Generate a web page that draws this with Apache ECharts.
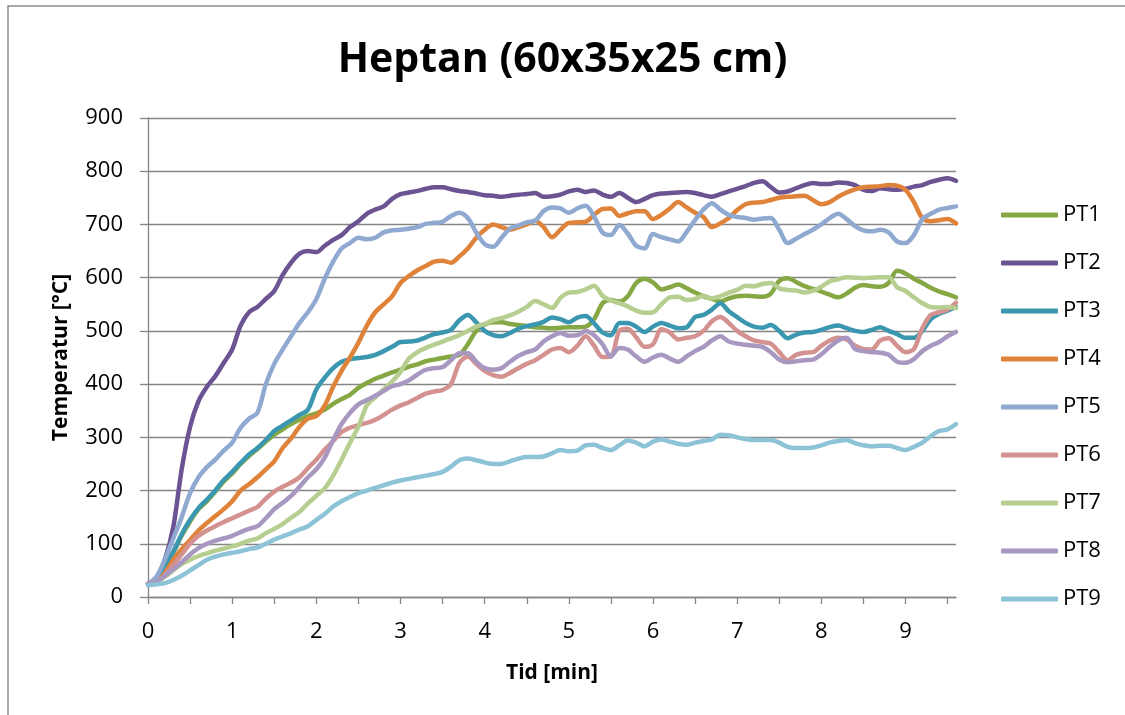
<!DOCTYPE html>
<html>
<head>
<meta charset="utf-8">
<script src="https://cdn.jsdelivr.net/npm/echarts@6/dist/echarts.min.js"></script>
<style>html,body{margin:0;padding:0;background:#fff;}#c{width:1125px;height:715px;}</style>
</head>
<body>
<div id="c"></div>
<script>
const title = "Heptan (60x35x25 cm)";
const xName = "Tid [min]";
const yName = "Temperatur [°C]";
const seriesNames = ["PT1","PT2","PT3","PT4","PT5","PT6","PT7","PT8","PT9"];
const xTickValues = [0,0.5,1,1.5,2,2.5,3,3.5,4,4.5,5,5.5,6,6.5,7,7.5,8,8.5,9,9.5];
const xLabelValues = [0,1,2,3,4,5,6,7,8,9];

const tid = [0,0.1,0.2,0.3,0.4,0.5,0.6,0.7,0.8,0.9,1,1.1,1.2,1.3,1.4,1.5,1.6,1.7,1.8,1.9,2,2.1,2.2,2.3,2.4,2.5,2.6,2.7,2.8,2.9,3,3.1,3.2,3.3,3.4,3.5,3.6,3.7,3.8,3.9,4,4.1,4.2,4.3,4.4,4.5,4.6,4.7,4.8,4.9,5,5.1,5.2,5.3,5.4,5.5,5.6,5.7,5.8,5.9,6,6.1,6.2,6.3,6.4,6.5,6.6,6.7,6.8,6.9,7,7.1,7.2,7.3,7.4,7.5,7.6,7.7,7.8,7.9,8,8.1,8.2,8.3,8.4,8.5,8.6,8.7,8.8,8.9,9,9.1,9.2,9.3,9.4,9.5,9.6];

const PT1 = [25,30,58,83,115,142,165,180,198,217,232,250,265,278,292,305,315,325,333,340,345,352,363,372,380,393,402,410,416,422,427,433,437,443,446,449,452,455,475,500,512,516,516,513,511,509,507,506,505,506,507,507,508,522,552,558,555,565,590,598,591,578,582,587,580,572,565,560,555,561,565,566,565,564,570,594,599,592,584,579,574,568,563,570,581,586,584,583,590,613,608,598,590,581,574,569,563];
const PT2 = [25,35,70,131,240,320,368,395,415,440,465,510,535,545,560,575,605,628,645,650,648,660,671,680,695,706,720,728,734,748,757,760,763,767,770,770,766,763,761,758,755,754,752,754,756,757,759,752,753,756,762,765,761,764,756,752,759,750,742,748,755,758,759,760,761,759,755,752,757,762,767,772,778,781,770,760,762,768,774,778,776,776,779,778,774,765,763,768,766,765,767,771,774,780,784,787,782];
const PT3 = [25,30,60,85,118,145,167,183,200,220,235,252,268,280,295,312,322,332,342,352,390,412,430,442,447,449,451,455,462,470,479,480,482,488,494,497,502,520,530,516,500,492,490,496,504,509,512,517,525,522,516,525,528,514,497,492,515,515,508,498,508,515,510,505,507,526,530,540,552,537,526,515,508,506,511,500,486,493,497,498,502,507,510,505,500,498,502,507,500,494,487,487,500,522,532,538,545];
const PT4 = [25,28,45,70,90,107,125,139,152,165,180,200,212,225,240,255,280,298,320,335,340,360,395,425,450,478,510,535,550,565,590,603,614,622,630,632,628,640,655,675,690,700,695,690,695,700,707,695,676,690,703,704,705,718,729,730,716,721,725,725,710,718,730,742,732,722,714,695,702,712,727,738,741,742,746,750,752,753,754,746,738,742,752,760,766,770,771,772,774,773,765,742,712,706,708,710,702];
const PT5 = [25,38,70,110,150,195,225,244,258,275,290,318,335,346,400,438,465,490,515,535,560,598,630,655,665,675,672,675,685,689,690,692,695,701,703,705,716,722,712,685,663,658,675,692,698,704,707,725,732,730,722,730,735,715,685,680,699,683,660,655,682,676,672,668,686,708,728,740,728,718,714,712,709,711,712,690,665,673,682,690,700,712,720,710,697,689,687,690,685,668,665,680,710,720,728,731,734];
const PT6 = [25,28,42,60,80,100,115,125,133,141,148,155,162,169,185,198,207,215,225,242,258,277,293,310,318,323,327,333,342,352,360,366,374,382,386,389,400,440,452,438,425,417,414,421,430,438,445,455,465,468,460,472,490,472,451,452,500,504,488,470,475,503,497,484,487,490,500,518,526,515,500,490,482,479,476,460,445,455,459,460,472,482,487,484,472,466,465,482,486,472,460,466,505,530,535,540,553];
const PT7 = [25,28,38,50,62,70,77,82,87,91,95,100,106,110,120,128,137,149,160,176,190,204,228,258,290,320,360,375,390,405,423,448,460,468,474,480,486,492,500,508,513,520,524,529,536,545,556,550,543,562,572,573,578,585,566,557,552,546,538,534,535,550,563,564,558,560,566,561,565,572,577,585,584,588,590,580,577,576,572,575,583,593,597,601,600,599,600,601,601,582,575,563,552,545,544,545,543];
const PT8 = [25,28,40,52,65,80,92,100,106,110,115,122,128,133,148,165,177,190,207,225,240,262,295,325,346,362,370,378,387,396,400,407,418,427,430,432,445,458,458,442,430,427,430,442,453,460,465,480,490,496,491,492,500,492,475,452,468,465,452,442,450,455,448,442,452,462,470,482,490,480,476,474,472,470,460,446,441,443,445,446,456,470,482,487,466,462,460,459,455,442,440,447,462,472,479,490,498];
const PT9 = [22,24,26,32,40,50,60,70,76,80,83,86,90,93,100,108,114,120,127,133,145,156,170,180,188,195,200,205,210,215,219,222,225,228,231,235,245,257,260,257,253,250,250,255,260,263,263,264,270,276,274,275,285,286,280,276,285,294,290,283,292,296,292,288,286,290,293,296,305,304,300,297,295,295,295,290,282,280,280,281,285,290,293,295,289,285,283,284,284,280,276,282,290,302,312,315,325];

const values = [PT1,PT2,PT3,PT4,PT5,PT6,PT7,PT8,PT9];
const colors = ["#86A844","#6C5493","#3B97B0","#E0833A","#8FA9D0","#D39290","#B6CE90","#A897C0","#8CC3D6"];

const FONT = "'Open Sans', 'Liberation Sans', sans-serif";
const chart = echarts.init(document.getElementById('c'), null, {renderer:'canvas'});
const axisGray = '#868686';

chart.setOption({
  backgroundColor: '#fff',
  animation: false,
  title: {
    text: title, left: 'center', top: 35,
    textStyle: {fontFamily: FONT, fontWeight: 'bold', fontSize: 41, color: '#000'}
  },
  graphic: [{
    type: 'rect', shape: {x: 8, y: 6, width: 1200, height: 800},
    style: {fill: 'none', stroke: '#8c8c8c', lineWidth: 1.5}, silent: true
  }],
  grid: {left: 148, top: 118, width: 808, height: 479},
  legend: {
    orient: 'vertical', left: 996, top: 199, itemWidth: 57, itemHeight: 5, itemGap: 26,
    icon: 'roundRect',
    textStyle: {fontFamily: FONT, fontSize: 22, lineHeight: 22, color: '#000'},
    data: seriesNames
  },
  xAxis: {
    type: 'value', min: 0, max: 9.6,
    name: xName, nameLocation: 'middle', nameGap: 66,
    nameTextStyle: {fontFamily: FONT, fontWeight: 'bold', fontSize: 21, color: '#000'},
    axisLine: {show: true, lineStyle: {color: axisGray, width: 1.3}},
    axisTick: {show: true, length: 7, lineStyle: {color: axisGray, width: 1.3}, customValues: xTickValues},
    axisLabel: {fontFamily: FONT, fontSize: 22, color: '#000', margin: 24, customValues: xLabelValues},
    splitLine: {show: false}
  },
  yAxis: {
    type: 'value', min: 0, max: 900, interval: 100,
    name: yName, nameLocation: 'middle', nameGap: 76, nameRotate: 90,
    nameTextStyle: {fontFamily: FONT, fontWeight: 'bold', fontSize: 21, color: '#000'},
    axisLine: {show: true, lineStyle: {color: axisGray, width: 1.3}},
    axisTick: {show: true, length: 8, lineStyle: {color: axisGray, width: 1.3}},
    axisLabel: {fontFamily: FONT, fontSize: 22, color: '#000', margin: 25},
    splitLine: {show: true, lineStyle: {color: axisGray, width: 1.3}}
  },
  series: seriesNames.map((n, k) => ({
    name: n, type: 'line', symbol: 'none', smooth: 0.3,
    data: tid.map((t, i) => [t, values[k][i]]),
    lineStyle: {color: colors[k], width: 4.5, cap: 'round', join: 'round'},
    itemStyle: {color: colors[k]}
  }))
});
</script>
</body>
</html>
